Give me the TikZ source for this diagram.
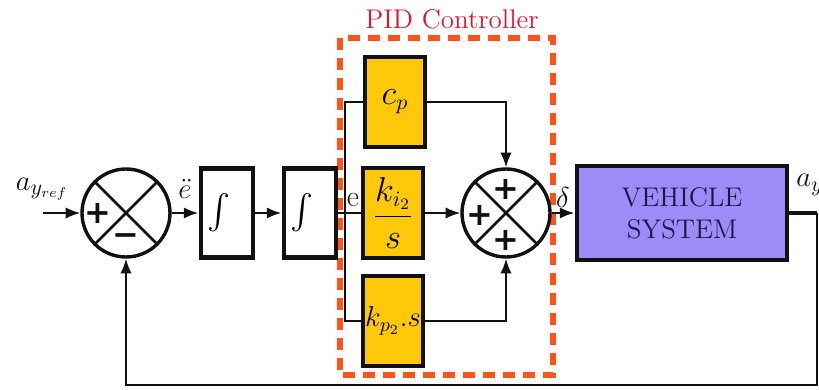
\documentclass[tikz,border=0pt]{standalone}
\usepackage{amsmath}
\usepackage{fontspec}
\newfontfamily\SignFont{DejaVu Sans}
\usetikzlibrary{arrows.meta,positioning}
\definecolor{ink}{HTML}{111111}
\definecolor{pidGold}{HTML}{FFC90A}
\definecolor{pidOrange}{HTML}{FF5419}
\definecolor{pidRed}{HTML}{E0162B}
\definecolor{vehLilac}{HTML}{9D8CF7}
\definecolor{vehText}{HTML}{1B1748}
\newcommand{\FigBody}{\fontsize{15}{17}\selectfont}
\newcommand{\FigGain}{\fontsize{16}{18}\selectfont}
\newcommand{\FigTitle}{\fontsize{13.5}{16}\selectfont}
\tikzset{
  sig arrow/.style={
    -{Latex[length=2.6mm,width=2mm]},
    line width=0.9pt, ink
  },
  sig line/.style={line width=0.9pt, ink},
  sum node/.style={
    circle, draw=ink, line width=1.7pt, fill=white,
    minimum size=44pt, inner sep=0pt
  },
  int box/.style={
    draw=ink, line width=2.4pt, fill=white, minimum width=26pt,
    minimum height=44.5pt, text width=20pt, align=left, inner sep=3pt,
    font=\fontsize{16}{18}\selectfont
  },
  gain box/.style={
    draw=ink, line width=2.4pt, fill=pidGold, minimum width=30pt,
    minimum height=45pt, inner sep=0pt, align=center, font=\FigGain
  },
  sign/.style={font=\SignFont\bfseries\fontsize{16}{16}\selectfont, inner sep=0pt, ink},
  sig label/.style={font=\FigBody, ink, inner sep=1pt},
}

\begin{document}
\begin{tikzpicture}[x=0.5pt,y=-0.5pt]
  \useasboundingbox (0,0) rectangle (819,390);

  % PID frame
  \draw[pidOrange,line width=2.6pt,dash pattern=on 6pt off 4pt] (340,38) rectangle (553,375);
  \node[font=\FigTitle,pidRed] (pidlbl) at (452,19) {PID Controller};

  % Main path
  \node[sum node] (sum1) at (126,213) {};
  \draw[line width=1.3pt,ink] (sum1.north west) -- (sum1.south east)
                              (sum1.north east) -- (sum1.south west);
  \node[sign] (s1a) at (98,213) {+};
  \node[sign] (s1b) at (126,240) {−};

  \node[int box] (int1) at (227,213) {$\int$};
  \node[int box] (int2) at (310,213) {$\int$};
  \coordinate (e) at (345,213);

  % Gains
  \node[gain box] (cp) at (395,102) {$c_p$};
  \node[gain box] (ki) at (393,213) {$\dfrac{k_{i_2}}{s}$};
  \node[gain box,font=\fontsize{14.5}{16}\selectfont] (kp) at (393,321) {$k_{p_2}.s$};

  \node[sum node] (sum2) at (506,213) {};
  \draw[line width=1.3pt,ink] (sum2.north west) -- (sum2.south east)
                              (sum2.north east) -- (sum2.south west);
  \node[sign] (s2a) at (506,189) {+};
  \node[sign] (s2b) at (480,215) {+};
  \node[sign] (s2c) at (506,240) {+};

  \node[draw=ink, line width=2.4pt, fill=vehLilac, minimum width=105pt, minimum height=47pt,
        align=center, font=\FigTitle, text=vehText] (veh) at (682,213) {VEHICLE\\SYSTEM};

  \coordinate (in) at (43,213);
  \coordinate (fb) at (817,213);
  \coordinate (fbl) at (817,385);

  % Connectors
  \draw[sig arrow] (in) -- (sum1.west);
  \draw[sig arrow,line width=1.4pt] (sum1.east) -- (int1.west);
  \draw[sig arrow,line width=1.4pt] (int1.east) -- (int2.west);
  \draw[sig line,line width=1.4pt] (int2.east) -- (e) -- (ki.west);
  \draw[sig line] (e) |- (cp.west);
  \draw[sig line] (e) |- (kp.west);
  \draw[sig arrow] (cp.east) -| (sum2.north);
  \draw[sig arrow] (ki.east) -- (sum2.west);
  \draw[sig arrow] (kp.east) -| (sum2.south);
  \draw[sig arrow,line width=1.4pt] (sum2.east) -- (veh.west);
  \draw[sig line,line width=2.2pt] (veh.east) -- (fb);
  \draw[sig arrow] (fb) -- (fbl) -| (sum1.south);

  % Signal labels
  \node[sig label] (lref) at (42,189) {$a_{y_{ref}}$};
  \node[sig label] (ledd) at (185,189) {$\ddot{e}$};
  \node[sig label] (le) at (353,200) {e};
  \node[sig label] (ldelta) at (563,197) {$\delta$};
  \node[sig label,anchor=west] (lout) at (794,185) {$a_y$};
\end{tikzpicture}
\end{document}
